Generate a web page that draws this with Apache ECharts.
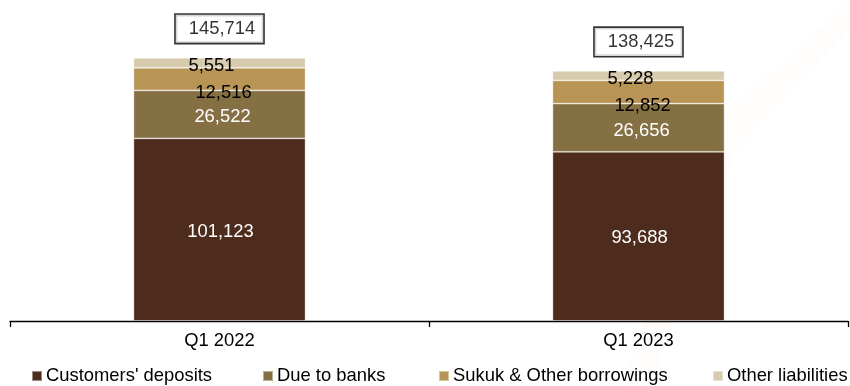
<!DOCTYPE html>
<html>
<head>
<meta charset="utf-8">
<script src="https://cdn.jsdelivr.net/npm/echarts@6/dist/echarts.min.js"></script>
<style>
  html, body { margin: 0; padding: 0; background: #fff; }
  #chart { width: 850px; height: 386px; }
</style>
</head>
<body>
<div id="chart"></div>
<script>
// Funding mix by quarter (SAR millions)
const categories = ['Q1 2022', 'Q1 2023'];
const seriesNames = ["Customers' deposits", 'Due to banks', 'Sukuk & Other borrowings', 'Other liabilities'];
const customersDeposits = [101123, 93688];
const dueToBanks = [26522, 26656];
const sukukBorrowings = [12516, 12852];
const otherLiabilities = [5551, 5228];
const totals = [145714, 138425];

const FONT = '"Liberation Sans", Arial, sans-serif';
const FS = 18.4;
const fmt = v => v.toLocaleString('en-US');

const chart = echarts.init(document.getElementById('chart'), null, { renderer: 'canvas' });

function stackSeries(name, data, color, textColor, offset) {
  return {
    name: name,
    type: 'bar',
    stack: 'total',
    barWidth: 172,
    data: data,
    itemStyle: { color: color, borderColor: 'rgba(255,255,255,0.45)', borderWidth: 0.8 },
    label: {
      show: true,
      position: 'inside',
      offset: offset,
      color: textColor,
      fontFamily: FONT,
      fontSize: FS,
      formatter: p => fmt(p.value)
    }
  };
}

// one legend block per entry so the row spans the full width
const legendLefts = [31, 262, 438, 712];
const legends = seriesNames.map((name, i) => ({
  left: legendLefts[i],
  top: 367,
  padding: 0,
  itemWidth: 10,
  itemHeight: 10,
  icon: 'rect',
  textStyle: { fontFamily: FONT, fontSize: FS, color: '#000', padding: [0, 0, 0, -1] },
  data: [name]
}));

chart.setOption({
  animation: false,
  backgroundColor: '#fff',
  textStyle: { fontFamily: FONT },
  graphic: [{
    type: 'polygon',
    z: -10,
    silent: true,
    shape: { points: [[850, 0], [850, 30], [735, 150], [650, 386], [620, 386], [720, 120]] },
    style: { fill: 'rgba(250,225,205,0.07)' }
  }],
  grid: { left: 10, right: 2, top: 32, bottom: 65 },
  legend: legends,
  xAxis: {
    type: 'category',
    data: categories,
    boundaryGap: true,
    axisLine: { lineStyle: { color: '#000', width: 1.3 } },
    axisTick: { show: true, length: 6, lineStyle: { color: '#000', width: 1.3 } },
    axisLabel: { color: '#000', fontFamily: FONT, fontSize: FS, margin: 11 }
  },
  yAxis: {
    type: 'value',
    min: 0,
    max: 160000,
    show: false,
    splitLine: { show: false }
  },
  series: [
    stackSeries(seriesNames[0], customersDeposits, '#4e2c1d', '#fff', [1, 2]),
    stackSeries(seriesNames[1], dueToBanks, '#857044', '#fff', [3, 3]),
    stackSeries(seriesNames[2], sukukBorrowings, '#b99555', '#000', [4, 14]),
    stackSeries(seriesNames[3], otherLiabilities, '#d6cbad', '#000', [-8, 3]),
    {
      name: 'Total',
      type: 'scatter',
      symbolSize: 0,
      data: totals,
      silent: true,
      z: 5,
      label: {
        show: true,
        position: 'top',
        distance: 15,
        color: '#000',
        fontFamily: FONT,
        fontSize: FS,
        lineHeight: 20,
        backgroundColor: '#fff',
        borderColor: '#000',
        borderWidth: 1.6,
        padding: [4, 8, 4, 13],
        formatter: p => fmt(p.value)
      }
    }
  ]
});
</script>
</body>
</html>
